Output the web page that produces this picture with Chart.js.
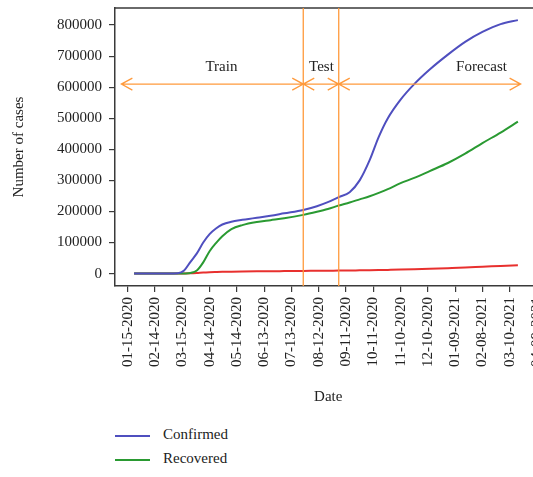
<!DOCTYPE html>
<html>
<head>
<meta charset="utf-8">
<script src="https://cdn.jsdelivr.net/npm/chart.js"></script>
<style>
  html, body { margin: 0; padding: 0; background: #fff; overflow: hidden; }
  #wrap { position: absolute; left: 0; top: 0; width: 560px; height: 412px; }
  #legend { position: absolute; left: 115px; top: 422px; font: 15px "Liberation Serif", serif; color: #222; }
  #legend div { height: 24px; line-height: 24px; white-space: nowrap; }
  #legend span { display: inline-block; width: 35px; height: 2px; vertical-align: middle; margin-right: 13px; }
</style>
</head>
<body>
<div id="wrap"><canvas id="chart"></canvas></div>
<div id="legend"></div>
<script>
// sample dates and values per series
const sampleDates = [
  '2020-01-22', '2020-02-15', '2020-03-10', '2020-03-17', '2020-03-24', '2020-03-31',
  '2020-04-07', '2020-04-14', '2020-04-21', '2020-04-28', '2020-05-08', '2020-05-20',
  '2020-06-05', '2020-06-20', '2020-07-05', '2020-07-26', '2020-08-10', '2020-08-22',
  '2020-09-03', '2020-09-15', '2020-09-26', '2020-10-07', '2020-10-17', '2020-10-27',
  '2020-11-10', '2020-11-25', '2020-12-12', '2021-01-01', '2021-01-20', '2021-02-08',
  '2021-02-28', '2021-03-19'
];
const confirmed = [
  0, 0, 1000, 10000, 38000, 65000,
  100000, 127000, 145000, 158000, 167000, 173000,
  180000, 186000, 194000, 205000, 217000, 230000,
  246000, 262000, 300000, 365000, 440000, 500000,
  560000, 610000, 657000, 705000, 746000, 778000,
  803000, 816000
];
const recovered = [
  0, 0, 0, 500, 2000, 10000,
  36000, 72000, 98000, 120000, 143000, 156000,
  166000, 172000, 178000, 189000, 199000, 208000,
  219000, 229000, 239000, 249000, 260000, 272000,
  291000, 308000, 330000, 356000, 386000, 420000,
  454000, 489000
];
const deaths = [
  0, 0, 0, 200, 800, 2000,
  3500, 4500, 5200, 5800, 6300, 6800,
  7300, 7700, 8000, 8500, 9000, 9300,
  9700, 10000, 10400, 10800, 11300, 11900,
  12800, 14000, 15500, 17500, 19500, 22000,
  24500, 27000
];

const xTickLabels = [
  '01-15-2020', '02-14-2020', '03-15-2020', '04-14-2020', '05-14-2020', '06-13-2020',
  '07-13-2020', '08-12-2020', '09-11-2020', '10-11-2020', '11-10-2020', '12-10-2020',
  '01-09-2021', '02-08-2021', '03-10-2021', '04-09-2021'
];
const yTickValues = [0, 100000, 200000, 300000, 400000, 500000, 600000, 700000, 800000];

// Train / Test / Forecast split
const splitDates = ['2020-07-26', '2020-09-03'];
const phaseNames = ['Train', 'Test', 'Forecast'];
const phaseLabelDates = ['2020-04-27', '2020-08-15', '2021-02-07'];
const arrowFrom = '2020-01-08';
const arrowTo = '2021-03-22';
const arrowLevel = 610000;
const phaseLabelLevel = 665000;

const ORIGIN = Date.UTC(2020, 0, 15);
function dayOf(iso) {
  const [y, m, d] = iso.split('-').map(Number);
  return (Date.UTC(y, m - 1, d) - ORIGIN) / 86400000;
}
function dayOfLabel(lbl) {
  const [m, d, y] = lbl.split('-');
  return dayOf(y + '-' + m + '-' + d);
}

const sampleDays = sampleDates.map(dayOf);
const pts = vals => vals.map((v, i) => ({ x: sampleDays[i], y: v }));

const ORANGE = '#ff9a3c';
const AXIS = '#3a3a3a';

const phasePlugin = {
  id: 'phases',
  afterDatasetsDraw(chart) {
    const { ctx, chartArea, scales: { x, y } } = chart;
    ctx.save();
    // top and right frame
    ctx.strokeStyle = AXIS;
    ctx.lineWidth = 1.5;
    ctx.beginPath();
    ctx.moveTo(chartArea.left, chartArea.top);
    ctx.lineTo(chartArea.right, chartArea.top);
    ctx.lineTo(chartArea.right, chartArea.bottom);
    ctx.stroke();

    ctx.strokeStyle = ORANGE;
    ctx.lineWidth = 1.3;
    const splitDays = splitDates.map(dayOf);
    splitDays.forEach(d => {
      const px = x.getPixelForValue(d);
      ctx.beginPath();
      ctx.moveTo(px, chartArea.top);
      ctx.lineTo(px, chartArea.bottom);
      ctx.stroke();
    });

    const bounds = [dayOf(arrowFrom), ...splitDays, dayOf(arrowTo)];
    const py = y.getPixelForValue(arrowLevel);
    const len = 11, half = 6;
    for (let i = 0; i < bounds.length - 1; i++) {
      const a = x.getPixelForValue(bounds[i]);
      const b = x.getPixelForValue(bounds[i + 1]);
      ctx.beginPath();
      ctx.moveTo(a, py); ctx.lineTo(b, py);
      ctx.moveTo(a + len, py - half); ctx.lineTo(a, py); ctx.lineTo(a + len, py + half);
      ctx.moveTo(b - len, py - half); ctx.lineTo(b, py); ctx.lineTo(b - len, py + half);
      ctx.stroke();
    }

    ctx.fillStyle = '#222';
    ctx.font = '15px "Liberation Serif", serif';
    ctx.textAlign = 'center';
    ctx.textBaseline = 'middle';
    phaseNames.forEach((name, i) => {
      ctx.fillText(name, x.getPixelForValue(dayOf(phaseLabelDates[i])), y.getPixelForValue(phaseLabelLevel));
    });
    ctx.restore();
  }
};

Chart.defaults.font.family = '"Liberation Serif", serif';
Chart.defaults.color = '#222';

const chart = new Chart(document.getElementById('chart'), {
  type: 'line',
  data: {
    datasets: [
      { label: 'Confirmed', data: pts(confirmed), borderColor: '#4f4fbf' },
      { label: 'Recovered', data: pts(recovered), borderColor: '#2a9a32' },
      { label: 'Deaths', data: pts(deaths), borderColor: '#e8302e' }
    ]
  },
  options: {
    responsive: true,
    maintainAspectRatio: false,
    animation: false,
    layout: { padding: { top: 8, left: 6, right: 0, bottom: 0 } },
    elements: {
      point: { radius: 0 },
      line: { borderWidth: 2, cubicInterpolationMode: 'monotone' }
    },
    plugins: { legend: { display: false }, tooltip: { enabled: false } },
    scales: {
      x: {
        type: 'linear',
        min: dayOf('2020-01-01'),
        max: dayOf('2021-04-14'),
        afterBuildTicks: axis => { axis.ticks = xTickLabels.map(l => ({ value: dayOfLabel(l) })); },
        ticks: {
          autoSkip: false,
          maxRotation: 90,
          minRotation: 90,
          padding: 5,
          font: { size: 15 },
          callback: (v, i) => xTickLabels[i]
        },
        grid: { drawOnChartArea: false, tickLength: 6, color: AXIS, lineWidth: 1.2 },
        border: { color: AXIS, width: 1.5 },
        title: { display: true, text: 'Date', font: { size: 15 }, padding: { top: 16, bottom: 6 } }
      },
      y: {
        min: -40000,
        max: 855000,
        afterBuildTicks: axis => { axis.ticks = yTickValues.map(v => ({ value: v })); },
        afterFit: axis => { axis.paddingTop = 0; axis.paddingBottom = 0; },
        ticks: { padding: 7, font: { size: 15 }, callback: v => String(v) },
        grid: { drawOnChartArea: false, tickLength: 6, color: AXIS, lineWidth: 1.2 },
        border: { color: AXIS, width: 1.5 },
        title: { display: true, text: 'Number of cases', font: { size: 15 }, padding: { top: 4, bottom: 22 } }
      }
    }
  },
  plugins: [phasePlugin]
});

// legend as a vertical list below the chart
const legend = document.getElementById('legend');
chart.data.datasets.forEach(ds => {
  const row = document.createElement('div');
  const sw = document.createElement('span');
  sw.style.background = ds.borderColor;
  row.appendChild(sw);
  row.appendChild(document.createTextNode(ds.label));
  legend.appendChild(row);
});
</script>
</body>
</html>
